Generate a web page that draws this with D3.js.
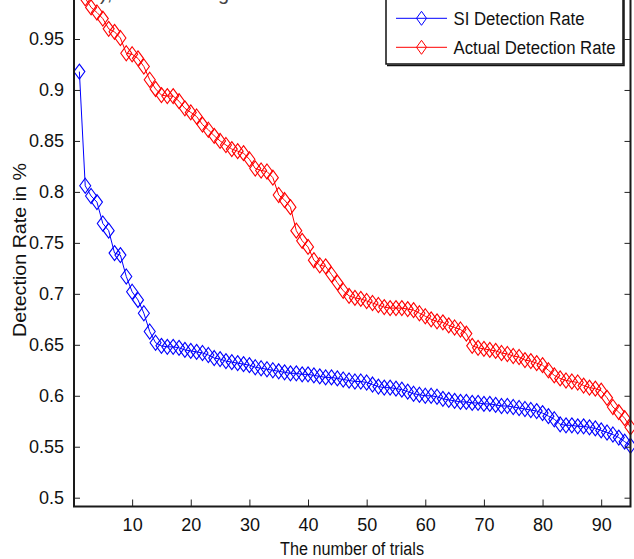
<!DOCTYPE html>
<html>
<head>
<meta charset="utf-8">
<script src="https://cdnjs.cloudflare.com/ajax/libs/d3/7.8.5/d3.min.js"></script>
<style>
  body { margin: 0; background: #fff; }
  text { font-family: "Liberation Sans", Arial, sans-serif; fill: #111; }
</style>
</head>
<body>
<svg id="chart" width="634" height="559"></svg>
<script>
/* data, trial 1..95 */

var trials = d3.range(1, 96);

var siRate = [
  0.918, 0.806, 0.796, 0.790, 0.769, 0.762, 0.740, 0.738, 0.717, 0.702,
  0.694, 0.681, 0.663, 0.652, 0.649, 0.648, 0.648, 0.647, 0.645, 0.644,
  0.643, 0.642, 0.640, 0.637, 0.636, 0.634, 0.633, 0.632, 0.631, 0.630,
  0.628, 0.627, 0.626, 0.625, 0.624, 0.623, 0.622, 0.622, 0.621, 0.621,
  0.620, 0.619, 0.618, 0.618, 0.617, 0.616, 0.615, 0.614, 0.614, 0.613,
  0.611, 0.609, 0.608, 0.608, 0.607, 0.606, 0.604, 0.602, 0.601, 0.600,
  0.600, 0.599, 0.597, 0.596, 0.595, 0.594, 0.594, 0.593, 0.593, 0.592,
  0.592, 0.591, 0.590, 0.590, 0.589, 0.588, 0.587, 0.586, 0.585, 0.583,
  0.580, 0.577, 0.572, 0.571, 0.571, 0.570, 0.570, 0.569, 0.568, 0.566,
  0.564, 0.562, 0.559, 0.555, 0.551
];

var actualRate = [
  1.000, 0.990, 0.981, 0.976, 0.970, 0.960, 0.957, 0.951, 0.936, 0.935,
  0.931, 0.923, 0.910, 0.901, 0.895, 0.894, 0.894, 0.889, 0.882, 0.878,
  0.874, 0.866, 0.861, 0.855, 0.850, 0.846, 0.842, 0.840, 0.838, 0.832,
  0.823, 0.821, 0.820, 0.814, 0.797, 0.792, 0.785, 0.762, 0.752, 0.746,
  0.733, 0.728, 0.727, 0.719, 0.711, 0.703, 0.698, 0.696, 0.695, 0.693,
  0.691, 0.689, 0.687, 0.686, 0.686, 0.686, 0.685, 0.684, 0.681, 0.678,
  0.675, 0.673, 0.672, 0.669, 0.667, 0.665, 0.661, 0.649, 0.647, 0.646,
  0.645, 0.644, 0.642, 0.641, 0.639, 0.638, 0.635, 0.634, 0.632, 0.630,
  0.625, 0.620, 0.617, 0.615, 0.614, 0.613, 0.610, 0.608, 0.607, 0.605,
  0.598, 0.589, 0.584, 0.578, 0.569
];

var xTicks = [10, 20, 30, 40, 50, 60, 70, 80, 90];
var yTicks = [0.5, 0.55, 0.6, 0.65, 0.7, 0.75, 0.8, 0.85, 0.9, 0.95];

var seriesNames = ["SI Detection Rate", "Actual Detection Rate"];
var seriesColors = ["#0000ff", "#ff0000"];

/* the axes box, its top sits above the picture */
var left = 74, right = 630.5, bottom = 506.5;

var svg = d3.select("#chart");

var x = d3.scaleLinear().domain([0, 95]).range([73.5, 630.5]);
var y = d3.scaleLinear().domain([0.5, 0.95]).range([497.7, 39]);

/* cut-off caption text from above the figure */
svg.append("text").attr("x", 100).attr("y", 0).style("font-size", "20px").style("fill", "#444").text("),");
svg.append("text").attr("x", 218).attr("y", 0).style("font-size", "20px").style("fill", "#444").text("g");

/* lines + diamond markers */
var diamond = "M0,-7.5L5.5,0L0,7.5L-5.5,0Z";
var line = d3.line().x(function(d) { return x(d[0]); }).y(function(d) { return y(d[1]); });

[siRate, actualRate].forEach(function(vals, i) {
  var pts = trials.map(function(t, k) { return [t, vals[k]]; });
  var g = svg.append("g");
  g.append("path")
    .attr("d", line(pts))
    .attr("fill", "none")
    .attr("stroke", seriesColors[i])
    .attr("stroke-width", 1);
  g.selectAll("path.m").data(pts).enter().append("path")
    .attr("class", "m")
    .attr("d", diamond)
    .attr("transform", function(d) { return "translate(" + x(d[0]) + "," + y(d[1]) + ")"; })
    .attr("fill", "none")
    .attr("stroke", seriesColors[i])
    .attr("stroke-width", 1.1);
});

/* axes, MATLAB style ticks pointing in */
var yLeft = d3.axisLeft(y).tickValues(yTicks).tickSize(-6).tickPadding(10)
  .tickFormat(function(d) { return String(+d.toFixed(2)); });
svg.append("g").attr("transform", "translate(" + left + ",0)").call(yLeft)
  .call(function(g) { g.select(".domain").remove(); });

var yRight = d3.axisRight(y).tickValues(yTicks).tickSize(-6).tickFormat("");
svg.append("g").attr("transform", "translate(" + right + ",0)").call(yRight)
  .call(function(g) { g.select(".domain").remove(); });

var xBottom = d3.axisBottom(x).tickValues(xTicks).tickSize(-7).tickPadding(12);
svg.append("g").attr("transform", "translate(0," + bottom + ")").call(xBottom)
  .call(function(g) { g.select(".domain").remove(); });

svg.selectAll(".tick text").style("font-size", "18px").style("font-family", "'Liberation Sans', Arial, sans-serif").attr("fill", "#111");
svg.selectAll(".tick line").attr("stroke", "#222").attr("stroke-width", 1);

/* box lines */
svg.append("path")
  .attr("d", "M" + left + ",-5V" + bottom + "H" + right + "V-5")
  .attr("fill", "none").attr("stroke", "#1a1a1a").attr("stroke-width", 2);

/* axis labels */
svg.append("text")
  .attr("x", 352).attr("y", 555)
  .attr("text-anchor", "middle")
  .attr("textLength", 144).attr("lengthAdjust", "spacingAndGlyphs")
  .style("font-size", "18px")
  .text("The number of trials");

svg.append("text")
  .attr("transform", "translate(26,250) rotate(-90)")
  .attr("text-anchor", "middle")
  .attr("textLength", 174).attr("lengthAdjust", "spacingAndGlyphs")
  .style("font-size", "19px")
  .text("Detection Rate in %");

/* legend, top part is cut off too */
var legend = svg.append("g");
legend.append("rect")
  .attr("x", 386).attr("y", -10).attr("width", 237).attr("height", 74)
  .attr("fill", "#fff").attr("stroke", "#111").attr("stroke-width", 1.5);
legend.append("path").attr("d", "M387,65.5H624V-10").attr("fill", "none").attr("stroke", "#111").attr("stroke-width", 1.5);

var legendRows = [18.3, 47.3];
var legendWidths = [131, 162];
seriesNames.forEach(function(name, i) {
  var ly = legendRows[i];
  legend.append("line").attr("x1", 396).attr("x2", 447).attr("y1", ly).attr("y2", ly)
    .attr("stroke", seriesColors[i]).attr("stroke-width", 1);
  legend.append("path").attr("d", "M0,-7L5,0L0,7L-5,0Z").attr("transform", "translate(421.5," + ly + ")")
    .attr("fill", "none").attr("stroke", seriesColors[i]).attr("stroke-width", 1);
  legend.append("text").attr("x", 453.5).attr("y", ly + 6.5)
    .attr("textLength", legendWidths[i]).attr("lengthAdjust", "spacingAndGlyphs")
    .style("font-size", "18px")
    .text(name);
});
</script>
</body>
</html>
